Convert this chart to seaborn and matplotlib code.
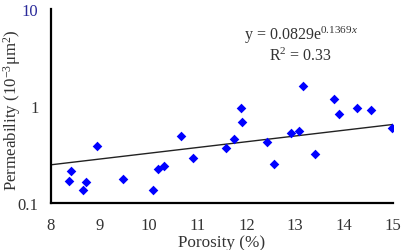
import matplotlib
matplotlib.use("Agg")
import matplotlib.pyplot as plt
import seaborn as sns
import pandas as pd
from matplotlib.ticker import FixedLocator, NullLocator

porosity = [8.37, 8.42, 8.66, 8.71, 8.95, 9.47, 10.08, 10.20, 10.32, 10.67,
            10.90, 11.59, 11.74, 11.89, 11.91, 12.43, 12.57, 12.92, 13.07, 13.15,
            13.41, 13.79, 13.89, 14.27, 14.56, 14.98]
permeability = [0.168, 0.215, 0.135, 0.165, 0.384, 0.177, 0.137, 0.226, 0.241, 0.494,
                0.291, 0.367, 0.454, 0.954, 0.684, 0.428, 0.252, 0.527, 0.553, 1.62,
                0.322, 1.19, 0.833, 0.961, 0.916, 0.589]
trend_x = [8.0, 15.0]
trend_y = [0.248, 0.646]
x_ticks = [8, 9, 10, 11, 12, 13, 14, 15]
y_ticks = [0.1, 1, 10]
y_tick_labels = ["0.1", "1", "10"]

sns.set_theme(style="white")
plt.rcParams['font.family'] = ['Liberation Serif', 'DejaVu Serif']
plt.rcParams['mathtext.fontset'] = 'custom'
plt.rcParams['mathtext.rm'] = 'Liberation Serif'
plt.rcParams['mathtext.it'] = 'Liberation Serif:italic'

df = pd.DataFrame({"Porosity": porosity, "Permeability": permeability})
tr = pd.DataFrame({"x": trend_x, "y": trend_y})

fig = plt.figure(figsize=(4.01, 2.51), dpi=100)
ax = fig.add_axes([0.127, 0.187, 0.853, 0.773])

sns.lineplot(data=tr, x="x", y="y", ax=ax, color="#222222", lw=1.0)
sns.scatterplot(data=df, x="Porosity", y="Permeability", ax=ax, marker="D",
                color="#0000ff", s=24, edgecolor="#0000ff", linewidth=0, zorder=3)

ax.set_yscale("log")
ax.set_xlim(8, 15)
ax.set_ylim(0.1, 10)
ax.xaxis.set_major_locator(FixedLocator(x_ticks))
ax.yaxis.set_major_locator(FixedLocator(y_ticks))
ax.yaxis.set_minor_locator(NullLocator())
ax.set_xticklabels([str(t) for t in x_ticks])
ax.set_yticklabels(y_tick_labels)

for s in ["top", "right"]:
    ax.spines[s].set_visible(False)
for s in ["left", "bottom"]:
    ax.spines[s].set_color("black")
    ax.spines[s].set_linewidth(1.6)

ax.tick_params(axis="both", direction="in", length=4, width=1.4, colors="black",
               labelsize=12)
ax.tick_params(axis="y", pad=9)
ax.tick_params(axis="x", pad=10)
for lbl in ax.get_yticklabels()[:2]:
    lbl.set_color("#333333")
for lbl in ax.get_xticklabels():
    lbl.set_color("#333333")
ax.get_yticklabels()[2].set_color("#2a2a9a")

ax.set_xlabel("Porosity (%)", fontsize=12.3, color="#333333", labelpad=1)
ax.set_ylabel("")
fig.text(12 / 401, 1 - 110 / 251, r"Permeability (10$^{-3}$μm$^{2}$)", rotation=90,
         ha="center", va="center", fontsize=12.2, color="#333333")

ax.text(0.73, 0.87, r"y = 0.0829e$^{0.1369x}$", transform=ax.transAxes,
        ha="center", va="center", fontsize=11.5, color="#333333")
ax.text(0.73, 0.76, r"R$^{2}$ = 0.33", transform=ax.transAxes,
        ha="center", va="center", fontsize=11.5, color="#333333")

fig.savefig("out.png", dpi=100)
